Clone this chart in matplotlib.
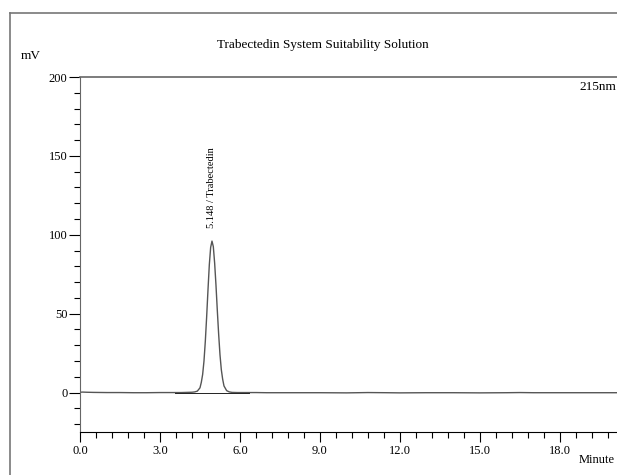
import matplotlib
matplotlib.use('Agg')
import matplotlib.pyplot as plt
from matplotlib.lines import Line2D
from matplotlib.ticker import MultipleLocator

plt.rc('font', family='Liberation Serif', size=9)

# chromatogram trace (minutes, mV)
time_min = [0.00, 0.10, 0.25, 0.50, 1.00, 1.50, 2.00, 2.50, 3.00, 3.50, 3.80,
            4.00, 4.20, 4.30, 4.40, 4.50, 4.55, 4.60, 4.65, 4.70, 4.75, 4.80,
            4.85, 4.90, 4.95, 5.00, 5.05, 5.10, 5.15, 5.20, 5.25, 5.30, 5.35,
            5.40, 5.50, 5.60, 5.70, 5.90, 6.20, 6.60, 7.00, 8.00, 9.00, 10.00,
            10.80, 11.50, 12.00, 13.00, 14.00, 15.00, 16.00, 16.50, 17.00,
            18.00, 19.00, 20.20]
signal_mv = [0.2, 0.3, 0.2, 0.1, 0.0, 0.0, -0.1, -0.1, 0.0, 0.0, 0.0,
             0.1, 0.2, 0.4, 0.9, 3.0, 6.5, 11.5, 20.0, 32.5, 48.0, 65.0,
             81.0, 92.0, 96.0, 92.5, 82.0, 68.0, 52.0, 37.0, 24.0, 14.5, 8.5,
             4.2, 1.2, 0.4, 0.1, 0.0, 0.0, 0.0, -0.1, -0.1, -0.1, -0.2,
             0.0, -0.1, -0.2, -0.1, -0.1, -0.2, -0.1, 0.0, -0.1,
             -0.1, -0.1, -0.1]

# integration baseline under the peak
base_time = [3.56, 6.34]
base_mv = [0.0, 0.0]

peak_time = 4.95
peak_label = "5.148 / Trabectedin"

fig = plt.figure(figsize=(6.17, 4.75), dpi=100)
ax = fig.add_axes([80 / 617, 1 - 432 / 475, 1 - 80 / 617, (432 - 77) / 475])

ax.plot(time_min, signal_mv, color='#555555', lw=1.0)
ax.plot(base_time, base_mv, color='#222222', lw=0.7)

ax.set_xlim(0, 20.14)
ax.set_ylim(-25, 200)
ax.xaxis.set_major_locator(MultipleLocator(3))
ax.xaxis.set_minor_locator(MultipleLocator(0.6))
ax.yaxis.set_major_locator(MultipleLocator(50))
ax.yaxis.set_minor_locator(MultipleLocator(10))
ax.xaxis.set_major_formatter(matplotlib.ticker.FormatStrFormatter('%.1f'))

ax.tick_params(axis='both', which='major', direction='out', labelsize=9, width=0.8)
ax.tick_params(axis='y', which='major', length=8, pad=1)
ax.tick_params(axis='y', which='minor', length=4, width=0.8)
ax.tick_params(axis='x', which='major', length=7, pad=2)
ax.tick_params(axis='x', which='minor', length=4, width=0.8)

ax.spines['right'].set_visible(False)
ax.spines['top'].set_color('#666666')
ax.spines['top'].set_linewidth(1.2)
ax.spines['left'].set_color('#666666')
ax.spines['bottom'].set_color('black')

ax.text(peak_time, 104, peak_label, rotation=90, ha='center', va='bottom', fontsize=7.5)

fig.text(0.524, 1 - 45 / 475, "Trabectedin System Suitability Solution",
         ha='center', va='center', fontsize=9.5)
fig.text(31 / 617, 1 - 56 / 475, "mV", ha='center', va='center', fontsize=9.5)
fig.text(0.999, 1 - 87 / 475, "215nm", ha='right', va='center', fontsize=9.5)
fig.text(0.997, 1 - 460 / 475, "Minute", ha='right', va='center', fontsize=9)

# outer frame of the report page
fig.add_artist(Line2D([10 / 617, 10 / 617], [0, 1 - 13 / 475],
                      transform=fig.transFigure, color='#777777', lw=1.2))
fig.add_artist(Line2D([10 / 617, 1], [1 - 13 / 475, 1 - 13 / 475],
                      transform=fig.transFigure, color='#777777', lw=1.2))

fig.savefig('out.png', dpi=100)
